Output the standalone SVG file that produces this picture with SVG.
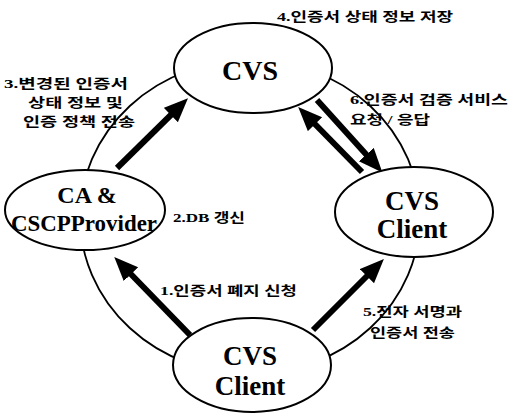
<svg xmlns="http://www.w3.org/2000/svg" width="512" height="413" viewBox="0 0 512 413">
<style>
.node{fill:#fff;stroke:#000;stroke-width:2}
.ring{fill:none;stroke:#000;stroke-width:1.8}
.arr{stroke:#000;stroke-width:6;fill:none}
.nt{font-family:'Liberation Serif','Tinos','Times New Roman','DejaVu Serif',serif;font-weight:bold;fill:#000;text-anchor:middle}
.lb{font-family:'Liberation Serif','DejaVu Serif','Noto Sans CJK KR',serif;font-weight:bold;font-size:13px;fill:#000}
</style>
<defs>
<marker id="ah" markerUnits="userSpaceOnUse" markerWidth="26" markerHeight="22" refX="10" refY="10" orient="auto">
<path d="M0,0 L24,10 L0,20 z" fill="#000"/>
</marker>
</defs>
<rect width="512" height="413" fill="#fff"/>
<ellipse class="ring" cx="250" cy="217" rx="170" ry="157"/>
<g id="connectors">
<line class="arr" x1="117" y1="168" x2="178" y2="108" marker-end="url(#ah)"/>
<line class="arr" x1="317" y1="100" x2="373" y2="162" marker-end="url(#ah)"/>
<line class="arr" x1="362" y1="172" x2="308" y2="117" marker-end="url(#ah)"/>
<line class="arr" x1="190" y1="335" x2="124" y2="267" marker-end="url(#ah)"/>
<line class="arr" x1="313" y1="330" x2="374" y2="269" marker-end="url(#ah)"/>
</g>
<g id="cvs">
<ellipse class="node" cx="253" cy="68" rx="79" ry="45"/>
<text class="nt" x="250" y="80" font-size="28" font-family="Liberation Serif, DejaVu Serif, serif">CVS</text>
</g>
<g id="ca">
<ellipse class="node" cx="85" cy="210" rx="80" ry="40"/>
<text class="nt" x="87" y="203" font-size="24" font-family="Liberation Serif, DejaVu Serif, serif">CA &amp;</text>
<text class="nt" x="84" y="231" font-size="24" font-family="Liberation Serif, DejaVu Serif, serif" textLength="146" lengthAdjust="spacingAndGlyphs">CSCPProvider</text>
</g>
<g id="client-right">
<ellipse class="node" cx="414" cy="212" rx="79" ry="45"/>
<text class="nt" x="412" y="210" font-size="27" font-family="Liberation Serif, DejaVu Serif, serif">CVS</text>
<text class="nt" x="412" y="238" font-size="27" font-family="Liberation Serif, DejaVu Serif, serif">Client</text>
</g>
<g id="client-bottom">
<ellipse class="node" cx="252" cy="365" rx="79" ry="47"/>
<text class="nt" x="250" y="365" font-size="27" font-family="Liberation Serif, DejaVu Serif, serif">CVS</text>
<text class="nt" x="250" y="395" font-size="27" font-family="Liberation Serif, DejaVu Serif, serif">Client</text>
</g>
<g id="labels">
<text class="lb" x="277" y="21" textLength="176" lengthAdjust="spacingAndGlyphs">4.인증서 상태 정보 저장</text>
<text class="lb" x="4" y="88" textLength="124" lengthAdjust="spacingAndGlyphs">3.변경된 인증서</text>
<text class="lb" x="28" y="107" textLength="95" lengthAdjust="spacingAndGlyphs">상태 정보 및</text>
<text class="lb" x="23" y="126" textLength="112" lengthAdjust="spacingAndGlyphs">인증 정책 전송</text>
<text class="lb" x="350" y="104" textLength="158" lengthAdjust="spacingAndGlyphs">6.인증서 검증 서비스</text>
<text class="lb" x="350" y="124" textLength="80" lengthAdjust="spacingAndGlyphs">요청 / 응답</text>
<text class="lb" x="173" y="222" font-size="11" textLength="72" lengthAdjust="spacingAndGlyphs">2.DB 갱신</text>
<text class="lb" x="160" y="295" textLength="137" lengthAdjust="spacingAndGlyphs">1.인증서 폐지 신청</text>
<text class="lb" x="363" y="316" textLength="99" lengthAdjust="spacingAndGlyphs">5.전자 서명과</text>
<text class="lb" x="370" y="337" textLength="85" lengthAdjust="spacingAndGlyphs">인증서 전송</text>
</g>
</svg>
